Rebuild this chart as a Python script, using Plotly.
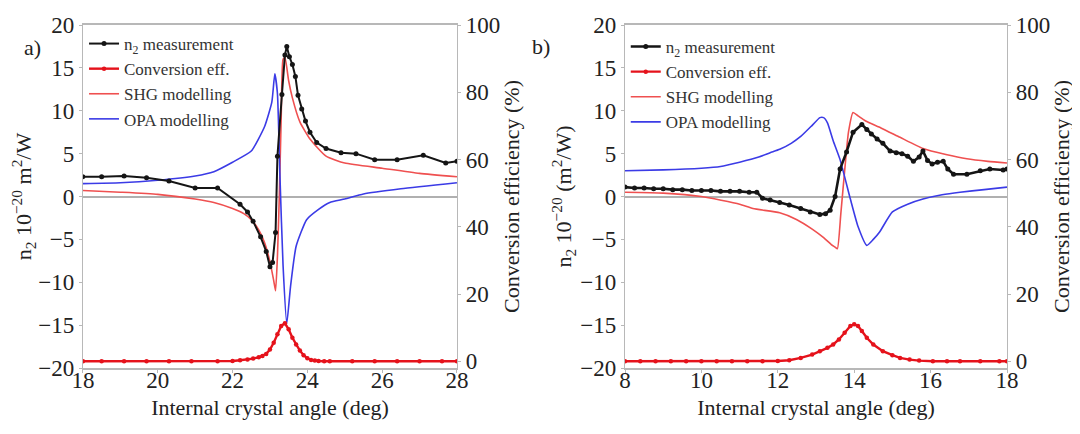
import plotly.graph_objects as go

# ---------------- Panel a data ----------------
a_meas_x = [18.0, 18.5, 19.1, 19.7, 20.3, 21.0, 21.6, 22.2, 22.4, 22.55, 22.75, 22.9, 23.0, 23.07,
            23.15, 23.2, 23.32, 23.4, 23.45, 23.52, 23.6, 23.68, 23.75, 23.85, 23.95, 24.07, 24.25,
            24.5, 24.9, 25.3, 25.8, 26.4, 27.1, 27.7, 28.0]
a_meas_y = [2.3, 2.3, 2.4, 2.2, 1.8, 1.0, 1.0, -0.9, -1.8, -2.9, -4.7, -6.4, -8.2, -7.7,
            -4.2, 4.7, 11.9, 16.5, 17.5, 16.3, 15.4, 14.0, 11.8, 10.2, 8.8, 7.5, 6.3,
            5.6, 5.1, 5.0, 4.3, 4.3, 4.8, 3.9, 4.1]

a_conv_x = [18.0, 18.5, 19.1, 19.7, 20.3, 20.9, 21.6, 22.0, 22.2, 22.4, 22.55, 22.7, 22.8, 22.9,
            23.0, 23.1, 23.2, 23.3, 23.4, 23.5, 23.6, 23.7, 23.8, 23.9, 24.0, 24.1, 24.2, 24.3,
            24.45, 24.6, 25.2, 25.8, 26.4, 27.0, 27.6, 28.0]
a_conv_y = [0, 0, 0, 0, 0, 0, 0, 0.1, 0.3, 0.5, 0.8, 1.2, 1.6, 2.2,
            3.5, 5.5, 8.0, 10.5, 11.3, 9.5, 7.0, 5.0, 3.2, 1.8, 0.9, 0.4, 0.2, 0.1,
            0, 0, 0, 0, 0, 0, 0, 0]

a_shg_x = [18.0, 19.0, 20.0, 21.0, 21.5, 22.0, 22.3, 22.5, 22.7, 22.85, 23.0, 23.1, 23.15, 23.2,
           23.25, 23.3, 23.35, 23.4, 23.5, 23.6, 23.8, 24.07, 24.5, 25.0, 26.0, 27.0, 28.0]
a_shg_y = [0.7, 0.5, 0.25, -0.3, -0.7, -1.4, -2.0, -2.7, -3.9, -5.3, -7.6, -9.8, -11.0, -7.0,
           0.0, 9.0, 16.0, 16.2, 13.5, 11.5, 8.7, 6.7, 4.7, 3.9, 3.3, 2.7, 2.3]

a_opa_x = [18.0, 19.0, 20.0, 21.0, 21.5, 22.0, 22.5, 22.86, 23.05, 23.13, 23.2, 23.27, 23.35,
           23.45, 23.55, 23.7, 23.98, 24.3, 24.6, 25.0, 25.5, 26.5, 28.0]
a_opa_y = [1.5, 1.6, 1.9, 2.4, 2.9, 4.0, 5.3, 8.2, 11.0, 14.3, 12.0, 2.0, -8.0,
           -14.8, -10.5, -5.8, -2.7, -1.5, -0.7, -0.3, 0.3, 0.9, 1.6]

# ---------------- Panel b data ----------------
b_meas_x = [8.0, 8.25, 8.5, 8.75, 9.0, 9.25, 9.5, 9.75, 10.0, 10.25, 10.5, 10.75, 11.0, 11.25,
            11.45, 11.6, 11.8, 12.05, 12.3, 12.6, 12.85, 13.1, 13.25, 13.37, 13.5, 13.63, 13.8,
            13.97, 14.2, 14.33, 14.45, 14.6, 14.75, 14.94, 15.1, 15.25, 15.4, 15.55, 15.7, 15.8,
            15.92, 16.04, 16.18, 16.33, 16.45, 16.6, 16.95, 17.3, 17.55, 17.9, 18.0]
b_meas_y = [1.1, 1.0, 1.0, 0.9, 0.9, 0.8, 0.8, 0.7, 0.7, 0.7, 0.6, 0.6, 0.6, 0.5,
            0.5, -0.2, -0.4, -0.7, -1.0, -1.4, -1.8, -2.1, -2.0, -1.6, 0.0, 3.2, 5.2,
            7.5, 8.4, 7.8, 7.3, 6.7, 6.2, 5.3, 5.1, 5.0, 4.7, 4.1, 4.6, 5.3,
            4.2, 3.8, 4.0, 4.1, 3.2, 2.6, 2.6, 3.0, 3.2, 3.1, 3.2]

b_conv_x = [8.0, 8.4, 8.8, 9.2, 9.6, 10.0, 10.4, 10.8, 11.2, 11.6, 12.0, 12.3, 12.6, 12.9,
            13.1, 13.3, 13.45, 13.6, 13.75, 13.9, 14.0, 14.1, 14.2, 14.33, 14.5, 14.75, 15.0,
            15.2, 15.45, 15.7, 16.06, 16.43, 16.77, 17.3, 17.8, 18.0]
b_conv_y = [0, 0, 0, 0, 0, 0, 0, 0, 0, 0, 0.1, 0.3, 1.0, 2.0,
            3.0, 4.0, 5.0, 6.5, 8.5, 10.5, 11.0, 10.5, 9.0, 7.0, 5.0, 3.0, 1.8,
            1.0, 0.5, 0.2, 0, 0, 0, 0, 0, 0]

b_shg_x = [8.0, 9.0, 10.0, 11.0, 11.35, 12.05, 12.5, 12.9, 13.2, 13.4, 13.5, 13.56, 13.65,
           13.75, 13.85, 13.97, 14.1, 14.3, 14.7, 15.2, 15.8, 16.4, 16.95, 17.5, 18.0]
b_shg_y = [0.5, 0.4, 0.0, -0.9, -1.4, -1.9, -2.7, -3.8, -4.8, -5.6, -5.9, -6.1, -2.0,
           3.0, 7.5, 9.8, 9.4, 8.8, 8.0, 6.9, 5.6, 4.9, 4.4, 4.1, 3.9]

b_opa_x = [8.0, 9.0, 10.0, 10.5, 11.0, 11.5, 11.8, 12.05, 12.35, 12.6, 12.9, 13.1, 13.2, 13.3,
           13.45, 13.63, 13.9, 14.1, 14.33, 14.5, 14.67, 15.0, 15.4, 15.8, 16.3, 16.77, 17.4, 18.0]
b_opa_y = [3.0, 3.1, 3.3, 3.5, 4.0, 4.6, 5.1, 5.5, 6.2, 7.0, 8.3, 9.2, 9.2, 8.6,
           6.5, 4.3, -0.3, -3.5, -5.7, -5.0, -4.1, -1.8, -0.9, -0.3, 0.2, 0.5, 0.8, 1.1]

names = ["n<sub>2</sub> measurement", "Conversion eff.", "SHG modelling", "OPA modelling"]

BLACK = "#151515"
RED = "#e5121b"
SHG_RED = "#ef5050"
BLUE = "#3b3be6"
FONT = "Liberation Serif, Times New Roman, Times, DejaVu Serif, serif"

fig = go.Figure()

def add_panel(meas_x, meas_y, conv_x, conv_y, shg_x, shg_y, opa_x, opa_y, xa, ya_l, ya_r, leg,
              meas_w):
    fig.add_trace(go.Scatter(x=shg_x, y=shg_y, name=names[2], mode="lines",
                             line=dict(color=SHG_RED, width=1.6, shape="spline", smoothing=0.5),
                             xaxis=xa, yaxis=ya_l, legend=leg, legendrank=3))
    fig.add_trace(go.Scatter(x=opa_x, y=opa_y, name=names[3], mode="lines",
                             line=dict(color=BLUE, width=1.6, shape="spline", smoothing=0.5),
                             xaxis=xa, yaxis=ya_l, legend=leg, legendrank=4))
    fig.add_trace(go.Scatter(x=meas_x, y=meas_y, name=names[0], mode="lines+markers",
                             line=dict(color=BLACK, width=meas_w),
                             marker=dict(color=BLACK, size=5),
                             xaxis=xa, yaxis=ya_l, legend=leg, legendrank=1))
    fig.add_trace(go.Scatter(x=conv_x, y=conv_y, name=names[1], mode="lines+markers",
                             line=dict(color=RED, width=2.4),
                             marker=dict(color=RED, size=4.5),
                             xaxis=xa, yaxis=ya_r, legend=leg, legendrank=2))

add_panel(a_meas_x, a_meas_y, a_conv_x, a_conv_y, a_shg_x, a_shg_y, a_opa_x, a_opa_y,
          "x", "y", "y2", "legend", 2)
add_panel(b_meas_x, b_meas_y, b_conv_x, b_conv_y, b_shg_x, b_shg_y, b_opa_x, b_opa_y,
          "x2", "y3", "y4", "legend2", 2.6)

tickfont = dict(family=FONT, size=23, color="#222222")
titlefont = dict(family=FONT, size=22, color="#222222")
LINEC = "#b8b8b8"

common_x = dict(showgrid=False, zeroline=False, showline=True, mirror=True, linecolor=LINEC,
                linewidth=1.5, ticks="outside", ticklen=3, tickcolor=LINEC, tickfont=tickfont,
                automargin=False, ticklabelstandoff=-12,
                title=dict(text="Internal crystal angle (deg)", font=titlefont, standoff=7))
common_yl = dict(showgrid=False, zeroline=True, zerolinecolor="#b0b0b0", zerolinewidth=1.5,
                 showline=True, linecolor=LINEC, linewidth=1.2, ticks="outside", ticklen=3,
                 tickcolor=LINEC, tickfont=tickfont, range=[-20, 20], automargin=False,
                 tickvals=[-20, -15, -10, -5, 0, 5, 10, 15, 20],
                 ticktext=["\u221220", "\u221215", "\u221210", "\u22125", "0", "5", "10", "15", "20"])
common_yr = dict(showgrid=False, zeroline=False, showline=True, linecolor=LINEC, linewidth=1.2,
                 ticks="outside", ticklen=3, tickcolor=LINEC, tickfont=tickfont,
                 range=[-2, 100], tickvals=[0, 20, 40, 60, 80, 100], side="right",
                 automargin=False,
                 title=dict(text="Conversion efficiency (%)", font=titlefont, standoff=4))

YD = [0.1705, 0.9608]

fig.update_layout(
    width=1080, height=434,
    margin=dict(l=0, r=0, t=0, b=0, autoexpand=False),
    paper_bgcolor="white", plot_bgcolor="white",
    showlegend=True,
    xaxis=dict(domain=[0.0694, 0.4157], range=[18, 28], tickvals=[18, 20, 22, 24, 26, 28],
               anchor="y", **common_x),
    xaxis2=dict(domain=[0.5713, 0.925], range=[8, 18], tickvals=[8, 10, 12, 14, 16, 18],
                anchor="y3", **common_x),
    yaxis=dict(domain=YD, anchor="x",
               title=dict(text="n<sub>2</sub> 10<sup>\u221220</sup> m<sup>2</sup>/W",
                          font=titlefont, standoff=0), **common_yl),
    yaxis2=dict(overlaying="y", anchor="x", **common_yr),
    yaxis3=dict(domain=YD, anchor="x2",
                title=dict(text="n<sub>2</sub> 10<sup>\u221220</sup> (m<sup>2</sup>/W)",
                           font=titlefont, standoff=2), **common_yl),
    yaxis4=dict(overlaying="y3", anchor="x2", **common_yr),
    legend=dict(x=0.0704, y=0.9585, xanchor="left", yanchor="top", bgcolor="rgba(0,0,0,0)",
                font=dict(family=FONT, size=17, color="#333333"), tracegroupgap=0,
                itemwidth=30),
    legend2=dict(x=0.572, y=0.9516, xanchor="left", yanchor="top", bgcolor="rgba(0,0,0,0)",
                 font=dict(family=FONT, size=17, color="#333333"), tracegroupgap=0,
                 itemwidth=30),
    annotations=[
        dict(text="a)", x=0.013, y=0.942, xref="paper", yref="paper", showarrow=False,
             font=dict(family=FONT, size=22, color="#222222")),
        dict(text="b)", x=0.4935, y=0.945, xref="paper", yref="paper", showarrow=False,
             font=dict(family=FONT, size=22, color="#222222")),
    ],
)

fig.write_html("out.html")
